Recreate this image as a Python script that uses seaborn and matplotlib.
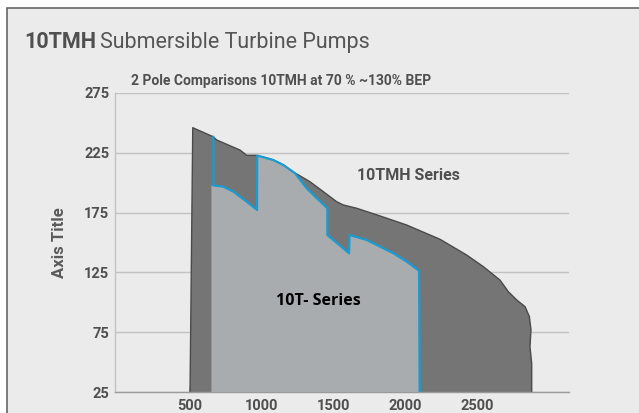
import numpy as np
import pandas as pd
import matplotlib.pyplot as plt
import seaborn as sns
from matplotlib.patches import Rectangle

# 10TMH series envelope (flow, head) - traced clockwise, closed at the bottom
tmh_flow = [500, 519, 660, 686, 848, 895, 953, 969, 1080, 1150, 1232, 1244, 1336,
            1429, 1522, 1568, 1662, 1824, 2010, 2242, 2428, 2544, 2660, 2718,
            2777, 2835, 2865, 2876, 2869, 2881, 2881]
tmh_head = [25, 246, 238.5, 235.7, 227.3, 222.9, 222.9, 222.7, 219, 214.8, 207.9,
            207.3, 200.8, 192.5, 184.1, 181.4, 178.6, 172.2, 164.6, 152.7, 139.5,
            129.8, 118.6, 108.9, 101.9, 96.3, 88, 76.8, 62.9, 49, 25]

# 10T- series envelope (upper boundary, blue line)
t_flow = [662, 662, 732, 802, 895, 967, 968, 1080, 1150, 1232, 1313, 1383, 1457,
          1457, 1608, 1612, 1731, 1801, 1917, 2010, 2096, 2100]
t_head = [238.5, 197.7, 196.7, 192.5, 184.1, 177.2, 222.7, 219, 214.8, 207.9,
          195.3, 187, 178.6, 156.3, 141, 156.3, 152.1, 147.9, 141, 134, 126.4, 25]
t_left_flow = 649

x_ticks = [500, 1000, 1500, 2000, 2500]
y_ticks = [25, 75, 125, 175, 225, 275]

title_bold = "10TMH"
title_rest = "Submersible Turbine Pumps"
subtitle = "2 Pole Comparisons 10TMH at 70 % ~130% BEP"
y_label = "Axis Title"

#%%
sns.set_theme(style="whitegrid")
plt.rcParams["font.family"] = ["Roboto", "DejaVu Sans"]

BG = "#ebebeb"
TXT = "#4f4f4f"

fig = plt.figure(figsize=(6.39, 4.13), dpi=100)
fig.patch.set_facecolor("white")
fig.patches.append(Rectangle((7 / 639, -0.1), 1.2, 1.1 - 8 / 413,
                             transform=fig.transFigure, facecolor=BG,
                             edgecolor="#666666", linewidth=1.2, zorder=-1))

ax = fig.add_axes([114.7 / 639, 21 / 413, 454.3 / 639, 299 / 413])
ax.set_facecolor(BG)
ax.set_axisbelow(True)

# dark envelope
ax.fill(tmh_flow, tmh_head, color="#757575", zorder=1, linewidth=0)
sns.lineplot(x=tmh_flow, y=tmh_head, sort=False, estimator=None, ax=ax,
             color="#4a4a4a", linewidth=1.0, zorder=2)

# light envelope
fill_x = [t_left_flow, t_left_flow] + t_flow[1:]
fill_y = [25, t_head[1]] + t_head[1:]
ax.fill(fill_x, fill_y, color="#a8acae", zorder=3, linewidth=0)
sns.lineplot(x=t_flow, y=t_head, sort=False, estimator=None, ax=ax,
             color="#1a9bd1", linewidth=1.6, zorder=4)

ax.set_xlim(-25, 3141)
ax.set_ylim(25, 275)
ax.set_xticks(x_ticks)
ax.set_yticks(y_ticks)
ax.grid(axis="x", visible=False)
ax.grid(axis="y", color="#c2c2c2", linewidth=1.0)
for s in ["top", "right"]:
    ax.spines[s].set_visible(False)
ax.spines["left"].set_color("#c2c2c2")
ax.spines["left"].set_linewidth(1.0)
ax.spines["bottom"].set_color("#9a9a9a")
ax.spines["bottom"].set_linewidth(1.0)
ax.tick_params(axis="x", direction="in", length=4, width=1, color="#222222",
               pad=5, labelsize=10.5, labelcolor=TXT, bottom=True)
ax.tick_params(axis="y", length=0, pad=4, labelsize=10.5, labelcolor=TXT)
for lab in ax.get_xticklabels() + ax.get_yticklabels():
    lab.set_fontweight("bold")

ax.set_xlabel("")
ax.set_ylabel(y_label, fontsize=12, fontweight="bold", color="#5a5a5a", labelpad=12)

ax.text(2025, 206, "10TMH Series", ha="center", va="center", fontsize=11.5,
        fontweight="bold", color=TXT, zorder=6)
ax.text(1392, 101, "10T- Series", ha="center", va="center", fontsize=11.5,
        fontweight="bold", color="black", family=["Open Sans", "DejaVu Sans"], zorder=6)

# titles
t1 = fig.text(24 / 639, 1 - 48 / 413, title_bold, fontsize=15.5, fontweight="bold",
              color=TXT, va="baseline", ha="left")
fig.canvas.draw()
bb = t1.get_window_extent(renderer=fig.canvas.get_renderer())
fig.text(bb.x1 / fig.bbox.width + 4 / 639, 1 - 48 / 413, title_rest, fontsize=15.5,
         fontweight="normal", color="#555555", va="baseline", ha="left")
fig.text(281 / 639, 1 - 85 / 413, subtitle, fontsize=10, fontweight="bold",
         color=TXT, va="baseline", ha="center")

fig.savefig("out.png", dpi=100, facecolor=fig.get_facecolor())
plt.close()
